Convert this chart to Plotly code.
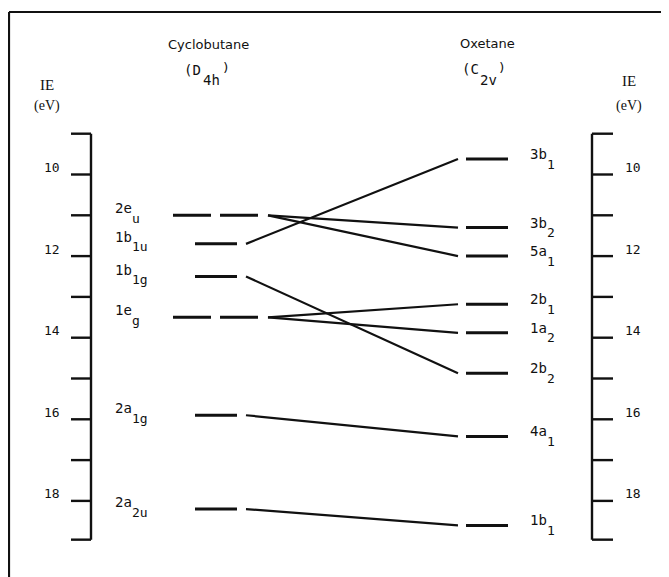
import plotly.graph_objects as go

# ---------------- data ----------------
cb_main = ["2e", "1b", "1b", "1e", "2a", "2a"]
cb_sub = ["u", "1u", "1g", "g", "1g", "2u"]
cb_ie = [11.0, 11.7, 12.5, 13.5, 15.9, 18.2]
cb_degenerate = [True, False, False, True, False, False]

ox_main = ["3b", "3b", "5a", "2b", "1a", "2b", "4a", "1b"]
ox_sub = ["1", "2", "1", "1", "2", "2", "1", "1"]
ox_ie = [9.62, 11.3, 12.0, 13.18, 13.88, 14.87, 16.42, 18.6]

corr_from = [0, 0, 1, 2, 3, 3, 4, 5]
corr_to = [1, 2, 0, 5, 3, 4, 6, 7]

tick_values = [9, 10, 11, 12, 13, 14, 15, 16, 17, 18]
tick_label_values = [10, 12, 14, 16, 18]
tick_labels = ["10", "12", "14", "16", "18"]
axis_top, axis_bottom = 9.0, 18.95

# ---------------- layout constants (screen pixels) ----------------
W, H = 669, 577
OFF = 8  # page body margin
PX_PER_EV = 40.8
Y10 = 174.5
E_TOP = 10 - (Y10 - OFF) / PX_PER_EV
E_BOT = 10 + (OFF + H - Y10) / PX_PER_EV
INK = "#111111"
MONO = "DejaVu Sans Mono"
SANS = "DejaVu Sans"
SERIF = "Liberation Serif"

LAX, LTICK = 91, 71
RAX, RTICK = 592, 613
CB_X = (195, 237)
CB_DEG_X = (173, 258)
CB_C0, CB_DEG_C0 = 246, 268
OX_X = (466, 508)
OX_C1 = 458

fig = go.Figure()


def line(xs, ys, width=2.0, dash="solid"):
    fig.add_trace(go.Scatter(x=xs, y=ys, mode="lines", hoverinfo="skip",
                             line=dict(color=INK, width=width, dash=dash)))


# axes rulers
for ax, tk in ((LAX, LTICK), (RAX, RTICK)):
    xs, ys = [ax, ax, None], [axis_top, axis_bottom, None]
    for t in tick_values + [axis_bottom]:
        xs += [tk, ax, None]
        ys += [t, t, None]
    line(xs, ys, width=2.4)

# cyclobutane levels
for e, deg in zip(cb_ie, cb_degenerate):
    if deg:
        line(list(CB_DEG_X), [e, e], width=3, dash="38px,9px")
    else:
        line(list(CB_X), [e, e], width=3)

# oxetane levels
for e in ox_ie:
    line(list(OX_X), [e, e], width=3)

# correlation lines
for i, j in zip(corr_from, corr_to):
    x0 = CB_DEG_C0 if cb_degenerate[i] else CB_C0
    line([x0, OX_C1], [cb_ie[i], ox_ie[j]], width=2.2)

ann = []
FS = 14
CW = FS * 0.602


def label(x, e, main, sub, up):
    ann.append(dict(x=x, y=e, xref="x", yref="y", text=main, showarrow=False,
                    xanchor="left", yanchor="middle", yshift=up,
                    font=dict(family=MONO, size=FS, color=INK)))
    ann.append(dict(x=x, y=e, xref="x", yref="y", text=sub, showarrow=False,
                    xanchor="left", yanchor="middle", yshift=up - 10,
                    xshift=len(main) * CW,
                    font=dict(family=MONO, size=FS - 1, color=INK)))


for m, s, e in zip(cb_main, cb_sub, cb_ie):
    label(113, e, m, s, 7)
for m, s, e in zip(ox_main, ox_sub, ox_ie):
    label(528, e, m, s, 5)

# tick labels
for v, t in zip(tick_label_values, tick_labels):
    for xc in (52, 633):
        ann.append(dict(x=xc, y=v, xref="x", yref="y", text=t, showarrow=False,
                        xanchor="center", yanchor="middle", yshift=7,
                        font=dict(family=MONO, size=FS - 1, color=INK)))


def pxp(x):
    return (x - OFF) / W


def pyp(p):
    return 1 - (p - OFF) / H


def txt(x, p, s, size, family=MONO, anchor="center"):
    ann.append(dict(x=x, y=pyp(p), xref="x", yref="paper", text=s, showarrow=False,
                    xanchor=anchor, yanchor="middle",
                    font=dict(family=family, size=size, color=INK)))


txt(47, 85, "IE", 15, SERIF)
txt(47, 106, "(eV)", 14, SERIF)
txt(629, 81, "IE", 15, SERIF)
txt(629, 106, "(eV)", 14, SERIF)

txt(208, 44, "Cyclobutane", 13, SANS)
txt(487, 43, "Oxetane", 13, SANS)


def group(x, p, parts):
    cx = x
    for s, dp, size, gap in parts:
        txt(cx, p + dp, s, size, anchor="left")
        cx += len(s) * size * 0.602 + gap


group(182, 70, [("(D", 0, 14, 2), ("4h", 10, 14, 2), (")", -3, 13, 0)])
group(460, 69, [("(C", 0, 14, 1), ("2v", 11, 14, 1), (")", -2, 13, 0)])

shapes = [
    dict(type="line", xref="paper", yref="paper", x0=pxp(9), x1=1, y0=pyp(12), y1=pyp(12),
         line=dict(color=INK, width=2.2)),
    dict(type="line", xref="paper", yref="paper", x0=pxp(9), x1=pxp(9), y0=pyp(12), y1=0,
         line=dict(color=INK, width=2.2)),
]

fig.update_layout(
    width=W, height=H, margin=dict(l=0, r=0, t=0, b=0),
    paper_bgcolor="white", plot_bgcolor="white", showlegend=False,
    xaxis=dict(range=[OFF, OFF + W], visible=False, fixedrange=True),
    yaxis=dict(range=[E_BOT, E_TOP], visible=False, fixedrange=True),
    annotations=ann, shapes=shapes,
)

fig.write_html("out.html", config={"displayModeBar": False})
